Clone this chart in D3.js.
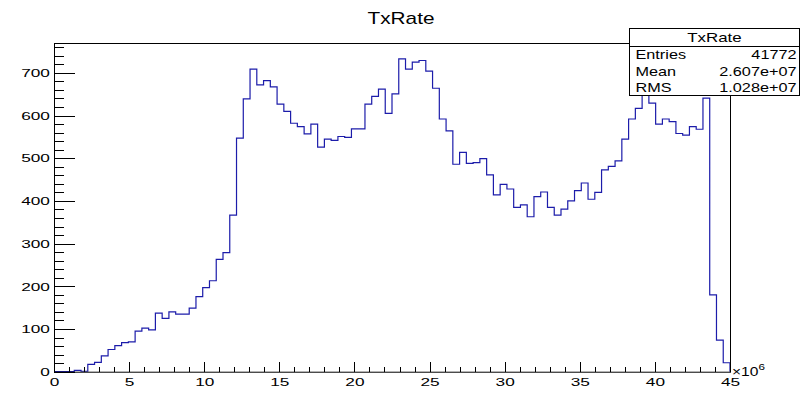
<!DOCTYPE html>
<html>
<head>
<meta charset="utf-8">
<script src="https://cdn.jsdelivr.net/npm/d3@7"></script>
<style>
  html, body { margin: 0; padding: 0; background: #fff; }
  svg { display: block; }
  text { font-family: "Liberation Sans", Arial, Helvetica, sans-serif; fill: #000; }
</style>
</head>
<body>
<svg id="chart" width="803" height="394"></svg>
<script>
// Histogram "TxRate": 100 equal bins between 0 and 45e6
const histName = "TxRate";
const binLow = 0;          // in units of 1e6
const binHigh = 45;
const counts = [
    0,   0,   0,   3,   1,  17,  22,  37,  52,  61,
   68,  70,  95, 102,  98, 137, 125, 140, 135, 135,
  149, 176, 197, 213, 263, 279, 367, 547, 639, 709,
  672, 682, 667, 627, 610, 582, 574, 557, 580, 526,
  545, 542, 551, 549, 569, 569, 627, 645, 662, 605,
  651, 733, 709, 725, 729, 704, 664, 592, 564, 486,
  514, 488, 490, 499, 461, 414, 439, 428, 385, 391,
  363, 410, 421, 385, 367, 381, 400, 424, 442, 404,
  420, 473, 481, 494, 545, 592, 617, 700, 629, 580,
  592, 586, 558, 554, 574, 568, 641, 180,  74,  21
];
const xTickValues = [0, 5, 10, 15, 20, 25, 30, 35, 40, 45];
const yTickValues = [0, 100, 200, 300, 400, 500, 600, 700];
const statLabels = ["Entries", "Mean", "RMS"];
const statValues = ["41772", "2.607e+07", "1.028e+07"];
const yMax = 770;

const svg = d3.select("#chart");

const frame = { left: 54, right: 730, top: 43, bottom: 371.7 };
const x = d3.scaleLinear().domain([binLow, binHigh]).range([frame.left, frame.right]);
const y = d3.scaleLinear().domain([0, yMax]).range([frame.bottom, frame.top]);

// text helper: horizontal stretch about the anchor point
function label(g, px, py, s, size, sx, anchor) {
  return g.append("text")
    .attr("transform", `translate(${px},${py}) scale(${sx},1)`)
    .attr("text-anchor", anchor || "start")
    .style("font-size", size + "px")
    .text(s);
}

// title
label(svg, 401, 24, histName, 16, 1.3, "middle");

// histogram outline
const bw = (binHigh - binLow) / counts.length;
const pts = [[binLow, 0]];
counts.forEach((c, i) => pts.push([binLow + i * bw, c]));
pts.push([binHigh, counts[counts.length - 1]]);
pts.push([binHigh, 0]);
const line = d3.line().x(d => x(d[0])).y(d => y(d[1])).curve(d3.curveStepAfter);
svg.append("path")
  .attr("d", line(pts))
  .attr("fill", "none")
  .attr("stroke", "#1c1caa")
  .attr("stroke-width", 1.2);

// y axis: major and minor ticks drawn inside the frame
const yMinor = d3.range(0, yMax + 1, 20);
svg.append("g")
  .attr("transform", `translate(${frame.left},0)`)
  .call(d3.axisLeft(y).tickValues(yMinor).tickSize(-10).tickFormat(""))
  .call(g => g.select(".domain").remove())
  .call(g => g.selectAll("line").attr("stroke", "#000").attr("shape-rendering", "crispEdges"));
const yAxis = svg.append("g")
  .attr("transform", `translate(${frame.left},0)`)
  .call(d3.axisLeft(y).tickValues(yTickValues).tickSize(-21).tickPadding(2.7).tickFormat(d3.format("d")))
  .call(g => g.select(".domain").remove())
  .call(g => g.selectAll("line").attr("stroke", "#000").attr("shape-rendering", "crispEdges"));
yAxis.selectAll("text")
  .attr("font-family", null)
  .style("font-size", "11.5px")
  .attr("transform", "scale(1.5,1)");

// x axis
const xMinor = d3.range(binLow, binHigh + 0.001, 1);
svg.append("g")
  .attr("transform", `translate(0,${frame.bottom})`)
  .call(d3.axisBottom(x).tickValues(xMinor).tickSize(-5).tickFormat(""))
  .call(g => g.select(".domain").remove())
  .call(g => g.selectAll("line").attr("stroke", "#000").attr("shape-rendering", "crispEdges"));
const xAxis = svg.append("g")
  .attr("transform", `translate(0,${frame.bottom})`)
  .call(d3.axisBottom(x).tickValues(xTickValues).tickSize(-10).tickPadding(6).tickFormat(d3.format("d")))
  .call(g => g.select(".domain").remove())
  .call(g => g.selectAll("line").attr("stroke", "#000").attr("shape-rendering", "crispEdges"));
xAxis.selectAll("text")
  .attr("font-family", null)
  .style("font-size", "11.5px")
  .attr("transform", "scale(1.5,1)");

// frame
svg.append("rect")
  .attr("x", frame.left + 0.5).attr("y", frame.top + 0.5)
  .attr("width", frame.right - frame.left).attr("height", frame.bottom - frame.top)
  .attr("fill", "none").attr("stroke", "#000").attr("stroke-width", 1);

// exponent label at the end of the x axis
const expo = svg.append("text")
  .attr("transform", `translate(${frame.right + 2},${frame.bottom + 4}) scale(1.3,1)`)
  .style("font-size", "12px");
expo.append("tspan").text("\u00d710");
expo.append("tspan").attr("dy", -6).style("font-size", "9px").text("6");

// statistics box
const box = { x: 629.5, y: 28.5, w: 170, h: 67, head: 18 };
const sb = svg.append("g");
sb.append("rect")
  .attr("x", box.x).attr("y", box.y).attr("width", box.w).attr("height", box.h)
  .attr("fill", "#fff").attr("stroke", "#000");
sb.append("line")
  .attr("x1", box.x).attr("x2", box.x + box.w)
  .attr("y1", box.y + box.head).attr("y2", box.y + box.head)
  .attr("stroke", "#000");
label(sb, box.x + box.w / 2, box.y + 13.5, histName, 13, 1.3, "middle");
const rowH = (box.h - box.head) / statLabels.length;
statLabels.forEach((s, i) => {
  const by = box.y + box.head + rowH * i + rowH / 2 + 4.5;
  label(sb, box.x + 6, by, s, 12.5, 1.3, "start");
  label(sb, box.x + box.w - 3, by, statValues[i], 12.5, 1.3, "end");
});
</script>
</body>
</html>
